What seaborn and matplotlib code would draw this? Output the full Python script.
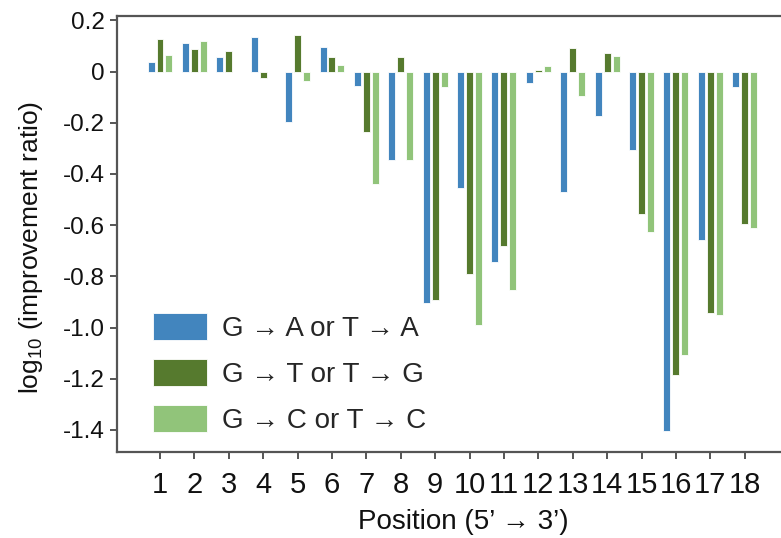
import matplotlib
matplotlib.use("Agg")
import matplotlib.pyplot as plt
import seaborn as sns
import pandas as pd

positions = [str(i) for i in range(1, 19)]
series_names = ["G \u2192 A or T \u2192 A", "G \u2192 T or T \u2192 G", "G \u2192 C or T \u2192 C"]
ga_vals = [0.038, 0.110, 0.055, 0.134, -0.196, 0.095, -0.055, -0.346, -0.903,
           -0.456, -0.745, -0.046, -0.472, -0.174, -0.307, -1.404, -0.658, -0.062]
gt_vals = [0.126, 0.087, 0.079, -0.024, 0.143, 0.055, -0.236, 0.055, -0.893,
           -0.792, -0.682, 0.008, 0.093, 0.071, -0.558, -1.186, -0.942, -0.596]
gc_vals = [0.063, 0.118, 0.0, 0.0, -0.038, 0.024, -0.439, -0.346, -0.062,
           -0.989, -0.855, 0.023, -0.095, 0.062, -0.628, -1.107, -0.950, -0.611]
colors = ["#4285BE", "#567A2E", "#91C47A"]
ytick_vals = [0.2, 0.0, -0.2, -0.4, -0.6, -0.8, -1.0, -1.2, -1.4]
ytick_labels = ["0.2", "0", "-0.2", "-0.4", "-0.6", "-0.8", "-1.0", "-1.2", "-1.4"]

rows = []
for name, vals in zip(series_names, [ga_vals, gt_vals, gc_vals]):
    for p, v in zip(positions, vals):
        rows.append({"Position": p, "Type": name, "Value": v})
df = pd.DataFrame(rows)

sns.set_theme(style="ticks")
plt.rcParams["font.family"] = ["Liberation Sans", "DejaVu Sans"]
plt.rcParams["mathtext.fontset"] = "custom"
plt.rcParams["mathtext.rm"] = "Liberation Sans"
plt.rcParams["mathtext.it"] = "Liberation Sans:italic"
plt.rcParams["mathtext.bf"] = "Liberation Sans:bold"

fig = plt.figure(figsize=(7.81, 5.38), dpi=100)
ax = fig.add_axes([117 / 781, 86 / 538, 692 / 781, 436 / 538])

sns.barplot(data=df, x="Position", y="Value", hue="Type", order=positions,
            hue_order=series_names, palette=colors, saturation=1, errorbar=None,
            width=0.78, gap=0.22, edgecolor="white", linewidth=0.6, ax=ax)

ax.set_xlim(-1.25, 18.87)
ax.set_ylim(-1.486, 0.217)
ax.set_yticks(ytick_vals)
ax.set_yticklabels(ytick_labels)

for side in ["left", "bottom", "top"]:
    ax.spines[side].set_color("#555555")
    ax.spines[side].set_linewidth(1.6)
ax.spines["right"].set_visible(False)
ax.tick_params(axis="both", direction="out", length=5, width=1.4, color="#555555",
               labelcolor="#111111")
ax.tick_params(axis="x", labelsize=21, pad=9)
ax.tick_params(axis="y", labelsize=17.5, pad=4)

ax.set_xlabel("Position (5\u2019 \u2192 3\u2019)", fontsize=20, color="#111111", labelpad=7)
ax.set_ylabel(r"log$_{\mathrm{10}}$ (improvement ratio)", fontsize=19, color="#111111")
ax.yaxis.set_label_coords(-0.104, 0.47)

ax.legend(loc="upper left", bbox_to_anchor=(153 / 781, 1 - 313 / 538),
          bbox_transform=fig.transFigure, frameon=False, fontsize=20,
          handlelength=1.95, handleheight=1.1, handletextpad=0.55,
          labelspacing=0.62, borderpad=0, borderaxespad=0)

fig.savefig("out.png", dpi=100)
